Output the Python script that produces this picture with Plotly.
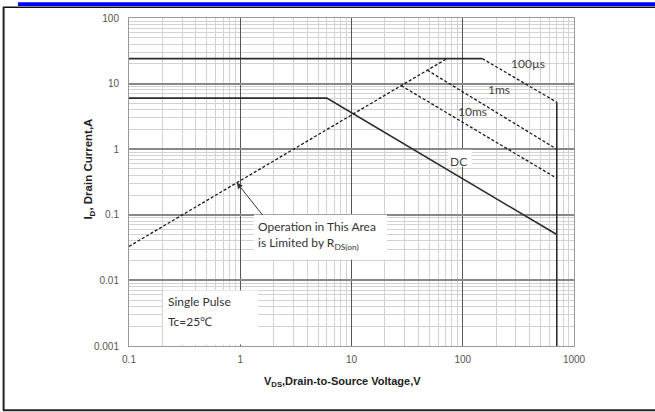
import math
import plotly.graph_objects as go

# ---- data ----
limit_x = [0.1, 150]            # package current limit
limit_y = [24, 24]
us100_x = [150, 700]            # 100 us pulse
us100_y = [24, 5.2]
bv_x = [700, 700]               # breakdown voltage limit
bv_y = [5.2, 0.001]
dc_x = [0.1, 6, 700]            # DC
dc_y = [6, 6, 0.05]
ms1_x = [48, 700]               # 1 ms pulse
ms1_y = [16, 1.0]
ms10_x = [28, 700]              # 10 ms pulse
ms10_y = [9.3, 0.36]
rds_x = [0.1, 72]               # RDS(on) limit
rds_y = [0.033, 24]

x_ticks = [0.1, 1, 10, 100, 1000]
x_tick_text = ["0.1", "1", "10", "100", "1000"]
y_ticks = [0.001, 0.01, 0.1, 1, 10, 100]
y_tick_text = ["0.001", "0.01", "0.1", "1", "10", "100"]

W, H = 655, 412
L, R, T, B = 129, 81, 15, 66
PW, PH = W - L - R, H - T - B

def px(x):
    return (x - L) / PW

def py(y):
    return (H - B - y) / PH

solid = dict(color="#2b2b2b", width=1.6)
dashed = dict(color="#1a1a1a", width=1.3, dash="3px,2px")

fig = go.Figure()
fig.add_trace(go.Scatter(x=limit_x, y=limit_y, mode="lines", line=solid))
fig.add_trace(go.Scatter(x=us100_x, y=us100_y, mode="lines", line=dashed))
fig.add_trace(go.Scatter(x=bv_x, y=bv_y, mode="lines", line=solid))
fig.add_trace(go.Scatter(x=dc_x, y=dc_y, mode="lines", line=solid))
fig.add_trace(go.Scatter(x=ms1_x, y=ms1_y, mode="lines", line=dashed))
fig.add_trace(go.Scatter(x=ms10_x, y=ms10_y, mode="lines", line=dashed))
fig.add_trace(go.Scatter(x=rds_x, y=rds_y, mode="lines", line=dashed))

tickfont = dict(family="Liberation Sans, Arial", size=10, color="#555")
fig.update_xaxes(
    type="log", range=[-1, 3], tickvals=x_ticks, ticktext=x_tick_text,
    showgrid=True, gridcolor="#555", gridwidth=1,
    minor=dict(dtick="D1", showgrid=True, gridcolor="#d2d2d2", gridwidth=1),
    showline=True, linecolor="#999", linewidth=1, mirror=True,
    ticks="outside", ticklen=4, tickcolor="rgba(0,0,0,0)",
    tickfont=tickfont, zeroline=False,
)
fig.update_yaxes(
    type="log", range=[-3, 2], tickvals=y_ticks, ticktext=y_tick_text,
    showgrid=True, gridcolor="#888", gridwidth=1.6,
    minor=dict(dtick="D1", showgrid=True, gridcolor="#d2d2d2", gridwidth=1),
    showline=True, linecolor="#999", linewidth=1, mirror=True,
    ticks="outside", ticklen=7, tickcolor="rgba(0,0,0,0)",
    tickfont=tickfont, zeroline=False,
)

soft = "Lato, Liberation Sans"
shapes = [
    # white boxes behind texts
    dict(type="rect", xref="paper", yref="paper", x0=px(254), x1=px(387), y0=py(259), y1=py(213.5),
         fillcolor="white", line=dict(width=0), layer="above"),
    dict(type="rect", xref="paper", yref="paper", x0=px(163), x1=px(258), y0=py(344.5), y1=py(290),
         fillcolor="white", line=dict(width=0), layer="above"),
    dict(type="rect", xref="paper", yref="paper", x0=px(448), x1=px(472), y0=py(165), y1=py(148),
         fillcolor="white", line=dict(width=0), layer="above"),
    # outer frame
    dict(type="rect", xref="paper", yref="paper", x0=px(18), x1=px(656), y0=py(3), y1=py(-1),
         fillcolor="#0000ff", line=dict(width=0), layer="above"),
    dict(type="line", xref="paper", yref="paper", x0=px(3), x1=px(656), y0=py(4.2), y1=py(4.2),
         line=dict(color="#111", width=1.5), layer="above"),
    dict(type="line", xref="paper", yref="paper", x0=px(3.6), x1=px(3.6), y0=py(4), y1=py(411),
         line=dict(color="#222", width=2), layer="above"),
    dict(type="line", xref="paper", yref="paper", x0=px(3), x1=px(656), y0=py(410.8), y1=py(410.8),
         line=dict(color="#222", width=2), layer="above"),
]

lbl = dict(family=soft, size=12, color="#444")
txt = dict(family=soft, size=12, color="#333")
annotations = [
    dict(x=math.log10(382), y=math.log10(20.3), xref="x", yref="y", text="100µs", showarrow=False, font=lbl),
    dict(x=math.log10(213), y=math.log10(8.2), xref="x", yref="y", text="1ms", showarrow=False, font=lbl),
    dict(x=math.log10(123), y=math.log10(3.7), xref="x", yref="y", text="10ms", showarrow=False, font=lbl),
    dict(x=math.log10(91), y=math.log10(0.66), xref="x", yref="y", text="DC", showarrow=False, font=lbl),
    dict(x=math.log10(0.93), y=math.log10(0.31), xref="x", yref="y", text="", showarrow=True,
         arrowhead=2, arrowsize=1.2, arrowwidth=1, arrowcolor="#333", ax=27, ay=34),
    dict(x=px(256), y=py(225), xref="paper", yref="paper", xanchor="left", yanchor="middle",
         text="Operation in This Area", showarrow=False, font=txt),
    dict(x=px(256), y=py(243), xref="paper", yref="paper", xanchor="left", yanchor="middle",
         text="is Limited by R<sub>DS(on)</sub>", showarrow=False, font=txt),
    dict(x=px(166), y=py(301.5), xref="paper", yref="paper", xanchor="left", yanchor="middle",
         text="Single Pulse", showarrow=False, font=txt),
    dict(x=px(166), y=py(321.5), xref="paper", yref="paper", xanchor="left", yanchor="middle",
         text="Tc=25℃", showarrow=False, font=txt),
    dict(x=px(342), y=py(382), xref="paper", yref="paper", xanchor="center", yanchor="middle",
         text="<b>V<sub>DS</sub>,Drain-to-Source Voltage,V</b>", showarrow=False,
         font=dict(family="Liberation Sans, Arial", size=11, color="#222")),
    dict(x=px(89), y=py(168), xref="paper", yref="paper", xanchor="center", yanchor="middle",
         text="<b>I<sub>D</sub>, Drain Current,A</b>", showarrow=False, textangle=-90,
         font=dict(family="Liberation Sans, Arial", size=11.5, color="#222")),
]

fig.update_layout(
    width=W, height=H, margin=dict(l=L, r=R, t=T, b=B, pad=0),
    paper_bgcolor="white", plot_bgcolor="white", showlegend=False,
    shapes=shapes, annotations=annotations,
)
fig.write_html(
    "out.html",
    config={"displayModeBar": False},
    post_script="document.body.style.margin='0';document.body.style.padding='0';"
                "document.body.style.overflow='hidden';",
)
